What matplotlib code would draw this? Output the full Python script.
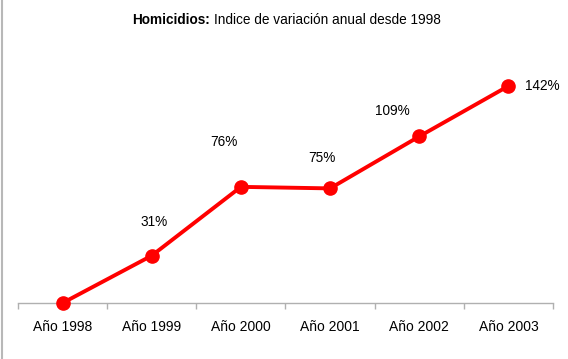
import matplotlib
matplotlib.use("Agg")
import matplotlib.pyplot as plt
from matplotlib.lines import Line2D

plt.rcParams["font.family"] = ["Liberation Sans", "DejaVu Sans"]

years = ["Año 1998", "Año 1999", "Año 2000", "Año 2001", "Año 2002", "Año 2003"]
values = [0, 31, 76, 75, 109, 142]
labels = ["", "31%", "76%", "75%", "109%", "142%"]
# label offsets in points (dx, dy) relative to each point
offsets = [(0, 0), (2, 24), (-12, 32), (-6, 22), (-19, 18), (12, 0)]

W, H = 568, 359
fig = plt.figure(figsize=(W / 100, H / 100), dpi=100)
ax = fig.add_axes([18 / W, (H - 303) / H, (553 - 18) / W, (303 - 45) / H])

red = "#ff0000"
xs = list(range(len(years)))
ax.plot(xs, values, color=red, lw=2.8, marker="o", markersize=9.5,
        markerfacecolor=red, markeredgecolor=red, solid_capstyle="round",
        clip_on=False, zorder=3)

for x, v, lab, (dx, dy) in zip(xs, values, labels, offsets):
    if not lab:
        continue
    ha = "left" if x == len(xs) - 1 else "center"
    ax.annotate(lab, (x, v), xytext=(dx, dy), textcoords="offset points",
                ha=ha, va="center", fontsize=9.8, color="black")

ax.set_xlim(-0.5, len(years) - 0.5)
ax.set_ylim(0, (303 - 45) / (217 / 142))

ax.set_xticks(xs)
ax.set_xticklabels(years, fontsize=10)
ax.set_xticks([x - 0.5 for x in range(len(years) + 1)], minor=True)
ax.tick_params(axis="x", which="major", length=0, pad=12)
ax.tick_params(axis="x", which="minor", length=4, color="#b0b0b0", width=1)
ax.set_yticks([])

for side in ["top", "right", "left"]:
    ax.spines[side].set_visible(False)
ax.spines["bottom"].set_color("#b0b0b0")
ax.spines["bottom"].set_linewidth(1)

# title: bold part followed by regular part
ty = 1 - 20 / H
t1 = fig.text(132 / W, ty, "Homicidios:", ha="left", va="center",
              fontsize=9.8, fontweight="bold")
fig.canvas.draw()
bb = t1.get_window_extent()
fig.text((bb.x1 + 4) / W, ty, "Indice de variación anual desde 1998",
         ha="left", va="center", fontsize=9.8)

fig.add_artist(Line2D([2 / W, 2 / W], [0, 1], color="#b8b8b8", lw=1.5,
                      transform=fig.transFigure))

fig.savefig("out.png", dpi=100)
